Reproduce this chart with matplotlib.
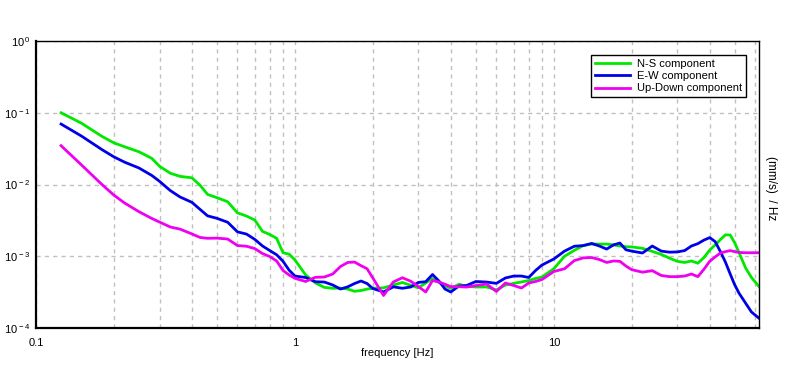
import matplotlib
matplotlib.use('Agg')
import matplotlib.pyplot as plt
from matplotlib.ticker import FixedLocator, NullFormatter
import numpy as np

plt.rcParams['font.family'] = ['Liberation Sans', 'DejaVu Sans']
plt.rcParams['mathtext.fontset'] = 'custom'
plt.rcParams['mathtext.rm'] = 'Liberation Sans'
plt.rcParams['mathtext.it'] = 'Liberation Sans'

freq = [0.125, 0.15, 0.18, 0.2, 0.22, 0.25, 0.28, 0.3, 0.33, 0.36, 0.4, 0.43, 0.46,
        0.5, 0.55, 0.6, 0.65, 0.7, 0.75, 0.8, 0.85, 0.9, 0.95, 1.0, 1.1, 1.2, 1.3,
        1.4, 1.5, 1.6, 1.7, 1.8, 1.9, 2.0, 2.2, 2.4, 2.6, 2.8, 3.0, 3.2, 3.4, 3.6,
        3.8, 4.0, 4.3, 4.6, 5.0, 5.5, 6.0, 6.5, 7.0, 7.5, 8.0, 8.5, 9.0, 10, 11, 12,
        13, 14, 15, 16, 17, 18, 19, 20, 22, 24, 26, 28, 30, 32, 34, 36, 38, 40, 42,
        44, 46, 48, 50, 52, 55, 58, 62]

ns = [0.10, 0.0715, 0.0468, 0.0381, 0.0336, 0.0286, 0.0232, 0.018, 0.0144, 0.013,
      0.0124, 0.0098, 0.00728, 0.00656, 0.00575, 0.00403, 0.00364, 0.0032, 0.00222,
      0.00201, 0.00178, 0.00112, 0.00107, 0.00089, 0.00055, 0.000425, 0.000368,
      0.000358, 0.00036, 0.000349, 0.000325, 0.000333, 0.000349, 0.000358, 0.000363,
      0.000397, 0.000431, 0.000394, 0.000363, 0.000424, 0.00049, 0.000431, 0.000388,
      0.000358, 0.000407, 0.000382, 0.000373, 0.000373, 0.00034, 0.000397, 0.000419,
      0.000438, 0.000459, 0.00049, 0.000514, 0.00067, 0.001, 0.00121, 0.00141,
      0.00148, 0.00148, 0.00148, 0.00144, 0.00139, 0.00136, 0.00135, 0.00129,
      0.00117, 0.00106, 0.00094, 0.00085, 0.00082, 0.00086, 0.0008, 0.00096,
      0.00122, 0.00144, 0.00171, 0.00199, 0.00198, 0.00153, 0.00111, 0.00069,
      0.000506, 0.000379]

ew = [0.0697, 0.0473, 0.0306, 0.0243, 0.0205, 0.017, 0.0134, 0.0111, 0.00825,
      0.00671, 0.00565, 0.00451, 0.00366, 0.00338, 0.00298, 0.00219, 0.00204,
      0.00172, 0.00139, 0.0012, 0.00105, 0.00085, 0.00064, 0.00053, 0.000506,
      0.000442, 0.000437, 0.000398, 0.000349, 0.000375, 0.000417, 0.000452,
      0.000417, 0.000355, 0.000318, 0.000375, 0.000358, 0.000373, 0.000432,
      0.000442, 0.000557, 0.000452, 0.000349, 0.000318, 0.000385, 0.000391,
      0.000445, 0.000437, 0.000419, 0.000498, 0.00053, 0.00053, 0.000506, 0.000633,
      0.000755, 0.000916, 0.00118, 0.00138, 0.00141, 0.00151, 0.00139, 0.00126,
      0.00144, 0.00153, 0.00123, 0.00118, 0.00111, 0.00139, 0.00118, 0.00114,
      0.00115, 0.0012, 0.00139, 0.0015, 0.00168, 0.00182, 0.0016, 0.00116, 0.00083,
      0.000566, 0.000397, 0.000303, 0.000223, 0.000167, 0.000137]

ud = [0.0348, 0.0187, 0.00997, 0.00711, 0.00552, 0.00418, 0.00337, 0.003, 0.00256,
      0.00239, 0.00205, 0.00183, 0.00178, 0.00179, 0.00174, 0.00141, 0.00138,
      0.00128, 0.00109, 0.00099, 0.00086, 0.000633, 0.000548, 0.000493, 0.000445,
      0.000509, 0.000514, 0.000566, 0.00072, 0.00082, 0.00083, 0.00074, 0.00067,
      0.000498, 0.000284, 0.000438, 0.000502, 0.000449, 0.000377, 0.000318,
      0.000459, 0.000438, 0.000407, 0.000377, 0.000377, 0.000372, 0.000391, 0.00041,
      0.000323, 0.000424, 0.000391, 0.000361, 0.000424, 0.000445, 0.000474,
      0.000613, 0.00067, 0.00087, 0.00095, 0.00096, 0.0009, 0.00082, 0.00086,
      0.00085, 0.00073, 0.00065, 0.0006, 0.00063, 0.00054, 0.00052, 0.00052,
      0.00053, 0.000566, 0.00052, 0.00066, 0.00085, 0.00098, 0.00111, 0.00116,
      0.0012, 0.00116, 0.00113, 0.00112, 0.00112, 0.00112]

fig = plt.figure(figsize=(7.96, 3.70), dpi=100)
ax = fig.add_axes([0.0452, 0.1135, 0.9083, 0.7755])

ax.plot(freq, ns, color='#00e800', lw=2, label='N-S component')
ax.plot(freq, ew, color='#0000e8', lw=2, label='E-W component')
ax.plot(freq, ud, color='#f000f0', lw=2, label='Up-Down component')

ax.set_xscale('log')
ax.set_yscale('log')
ax.set_xlim(0.1, 62)
ax.set_ylim(1e-4, 1)

ax.xaxis.set_major_locator(FixedLocator([0.1, 1, 10]))
ax.xaxis.set_minor_locator(FixedLocator([m * d for d in (0.1, 1, 10) for m in range(2, 10) if m * d < 62]))
ax.xaxis.set_minor_formatter(NullFormatter())
ax.set_xticklabels(['0.1', '1', '10'])
ax.yaxis.set_major_locator(FixedLocator([1e-4, 1e-3, 1e-2, 1e-1, 1]))
ax.yaxis.set_minor_locator(FixedLocator([]))
ax.set_yticklabels([r'10$^{\,-4}$', r'10$^{\,-3}$', r'10$^{\,-2}$', r'10$^{\,-1}$', r'10$^{\,0}$'])
ax.tick_params(which='both', length=0, labelsize=8)
ax.tick_params(axis='y', pad=4)
ax.tick_params(axis='x', pad=7)

ax.grid(True, which='major', axis='both', color='#c0c0c0', ls=(0, (3, 3)), lw=1)
ax.grid(True, which='minor', axis='x', color='#c0c0c0', ls=(0, (3, 3)), lw=1)

for side in ('left', 'bottom'):
    ax.spines[side].set_linewidth(1.6)
for side in ('top', 'right'):
    ax.spines[side].set_linewidth(1.0)

ax.set_xlabel('frequency [Hz]', fontsize=8, labelpad=0)
fig.text(0.968, 0.492, '(mm/s)  / Hz', rotation=270, fontsize=8.5, va='center', ha='center')

leg = ax.legend(loc='upper right', bbox_to_anchor=(0.982, 0.951), borderaxespad=0,
                fontsize=8, fancybox=False, framealpha=1, edgecolor='black',
                handlelength=3.2, borderpad=0.35, labelspacing=0.2, handletextpad=0.6)
leg.get_frame().set_linewidth(1.0)

fig.savefig('out.png', dpi=100)
